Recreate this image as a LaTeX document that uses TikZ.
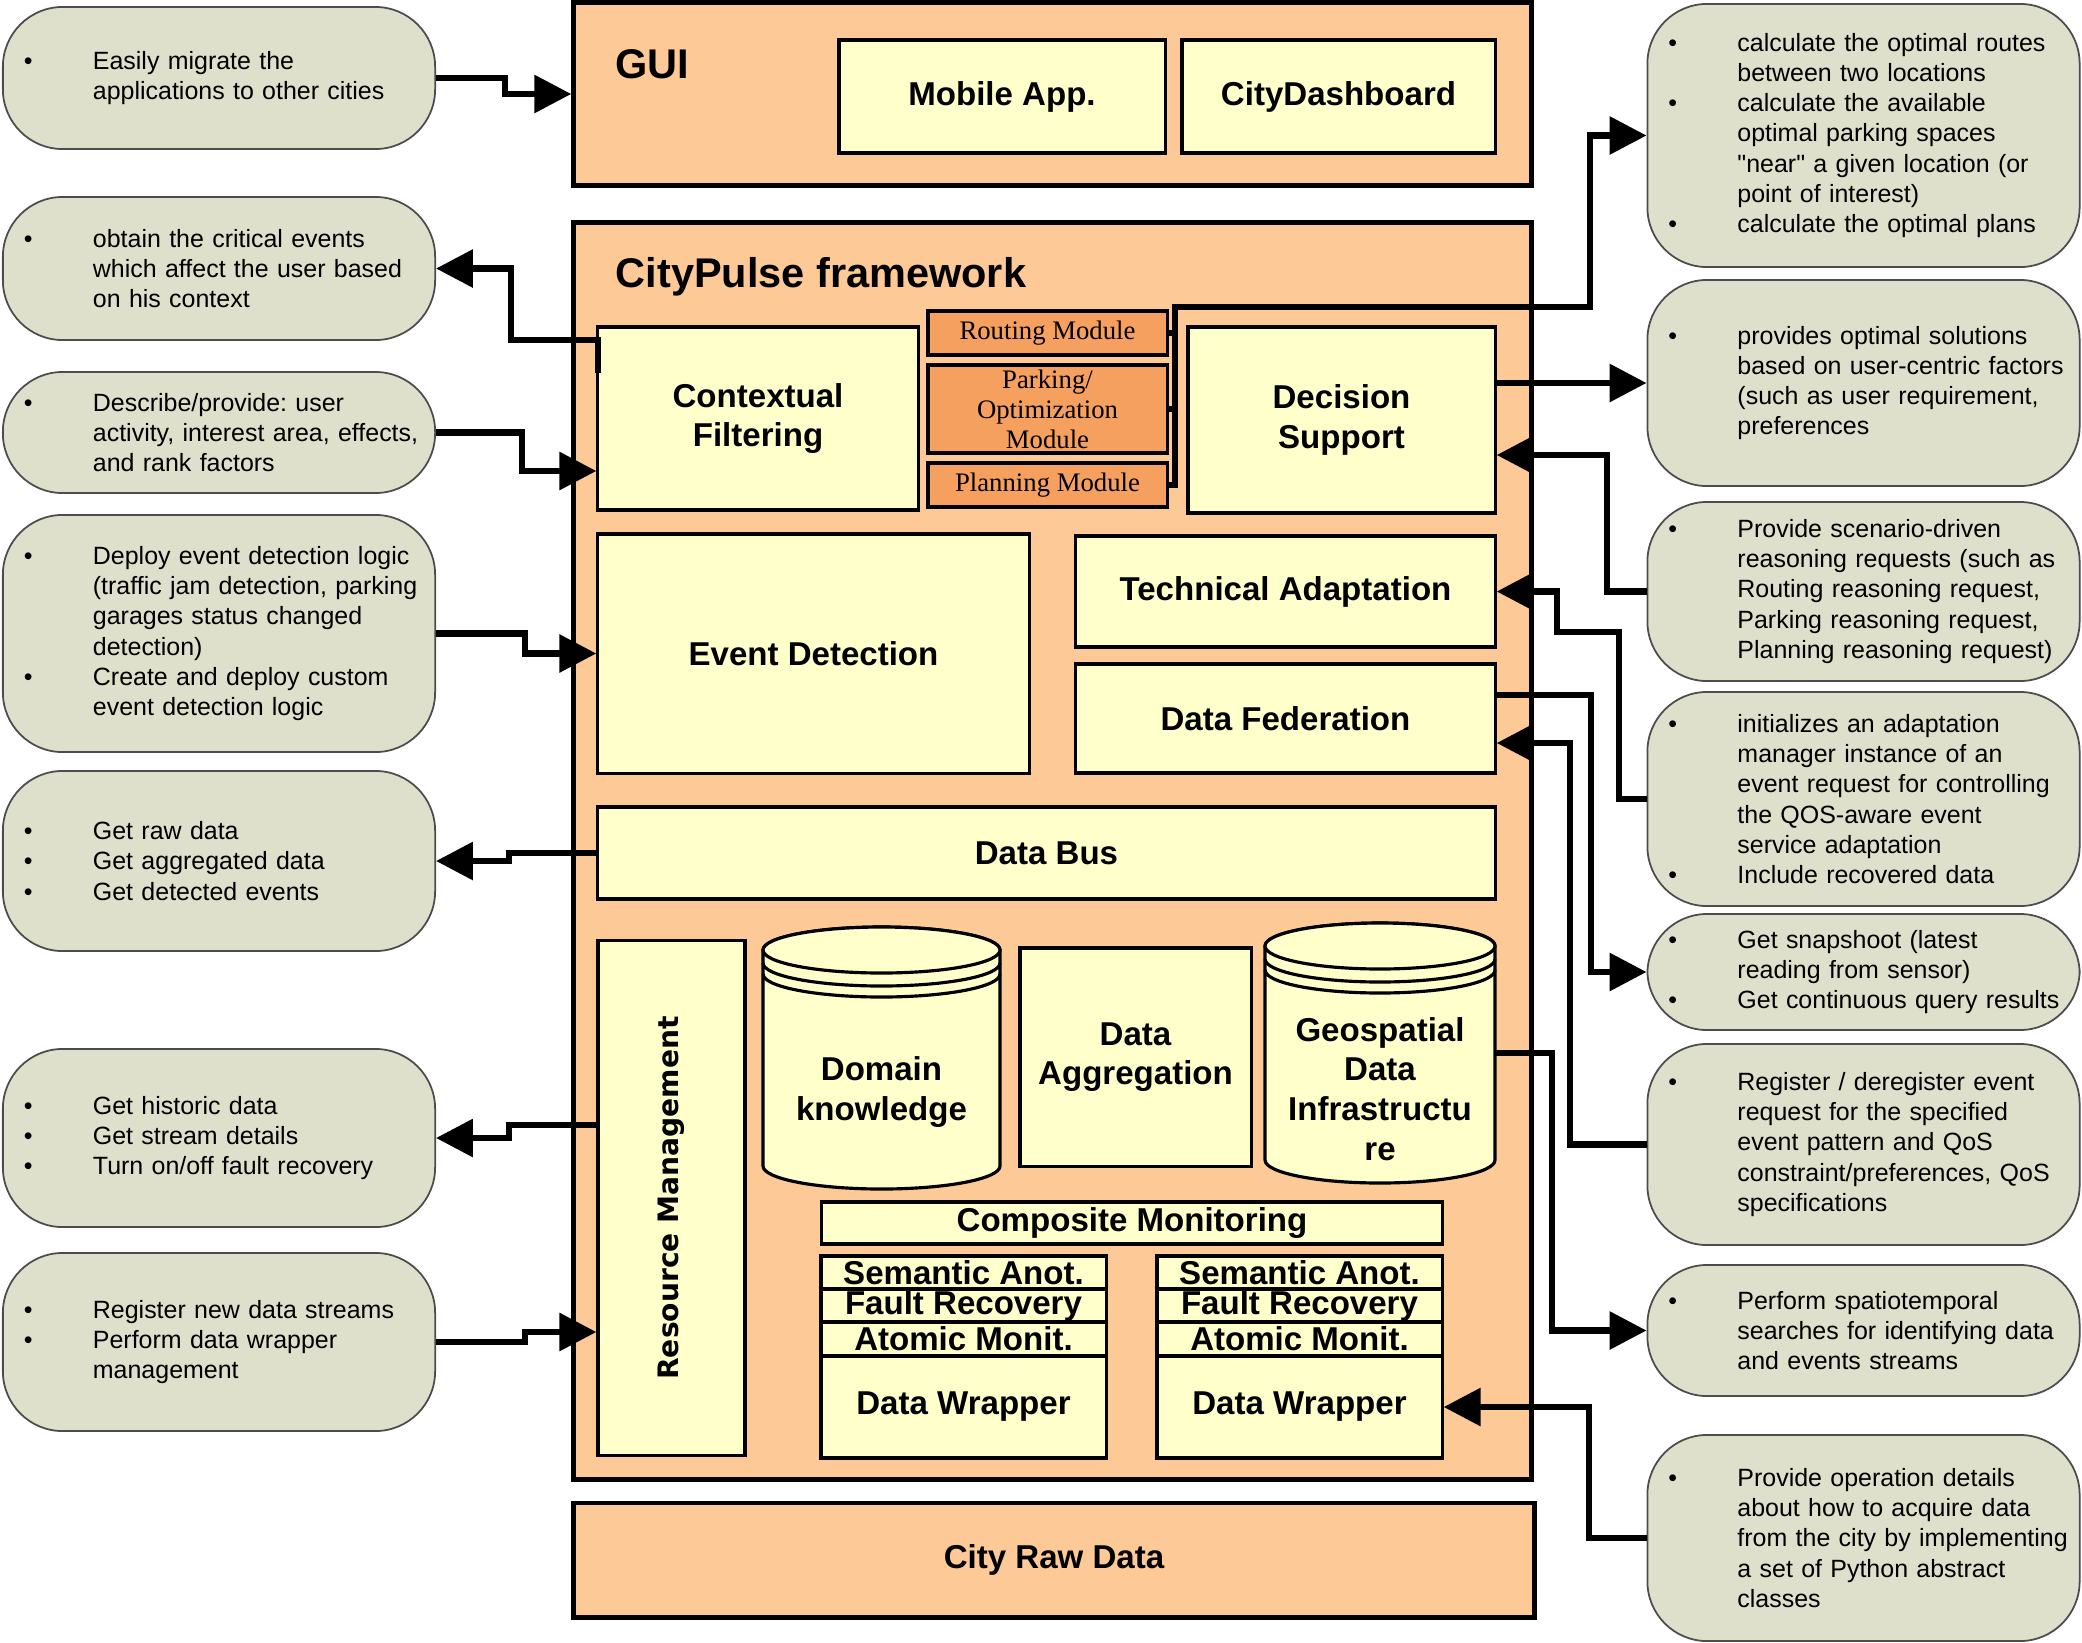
\documentclass[tikz,border=0pt]{standalone}
\usepackage{fontspec}
\setmainfont{Liberation Sans}
\newfontfamily\timesfont{Liberation Serif}
\newfontfamily\verdfont{DejaVu Sans}
\usetikzlibrary{arrows.meta,calc}
\frenchspacing

\definecolor{peach}{RGB}{253,201,151}
\definecolor{paleyellow}{RGB}{255,255,204}
\definecolor{modorange}{RGB}{245,160,95}
\definecolor{notegray}{RGB}{223,224,203}

% bullet line and continuation line of a remark
\newcommand{\bl}[1]{\makebox[0.69cm][l]{\textbullet}\mbox{#1}}
\newcommand{\cn}[1]{\makebox[0.69cm][l]{}\mbox{#1}}

\tikzset{
  layer/.style={draw, line width=1.4pt, fill=peach, inner sep=0pt},
  layertitle/.style={anchor=west, inner sep=0pt, font=\bfseries\fontsize{11.8}{14}\selectfont},
  blockfont/.style={font=\bfseries\fontsize{9.4}{11.3}\selectfont},
  block/.style={draw, line width=0.9pt, fill=paleyellow, inner sep=0pt, align=center, blockfont},
  module/.style={draw, line width=0.9pt, fill=modorange, inner sep=0pt, align=center, font=\timesfont\fontsize{7.6}{8.5}\selectfont},
  cyl/.style={draw, line width=0.9pt, fill=paleyellow},
  remark/.style={draw=black!70, line width=0.5pt, fill=notegray, rounded corners=17pt, minimum width=4.32cm, text width=3.9cm, inner xsep=0.21cm, align=left, font=\fontsize{7.1}{8.6}\selectfont},
  wire/.style={line width=1.8pt},
  flow/.style={wire, -{Triangle[length=10.5pt,width=10.5pt]}},
}

\begin{document}
\begin{tikzpicture}[x=0.01cm, y=-0.01cm]
  \useasboundingbox (0,0) rectangle (2082,1642);

  % layers
  \node[layer, minimum width=9.57cm, minimum height=1.82cm] (gui) at (1052.5,94) {};
  \node[layertitle] (guititle) at (615,64) {GUI};
  \node[layer, minimum width=9.57cm, minimum height=12.56cm] (fw) at (1052.5,851) {};
  \node[layertitle] (fwtitle) at (615,277) {CityPulse framework};
  \node[layer, blockfont, minimum width=9.6cm, minimum height=1.14cm] (raw) at (1054,1560) {City Raw Data};

  % GUI
  \node[block, minimum width=3.26cm, minimum height=1.13cm] (mobile) at (1002,96.5) {Mobile App.};
  \node[block, minimum width=3.13cm, minimum height=1.13cm] (dash) at (1338.5,96.5) {CityDashboard};

  % framework
  \node[block, minimum width=3.2cm, minimum height=1.83cm] (cf) at (758,418.5) {Contextual\\Filtering};
  \node[module, minimum width=2.39cm, minimum height=0.44cm] (routing) at (1047.5,333) {Routing Module};
  \node[module, minimum width=2.39cm, minimum height=0.88cm] (parking) at (1047.5,409) {Parking/\\Optimization\\Module};
  \node[module, minimum width=2.39cm, minimum height=0.44cm] (planning) at (1047.5,485) {Planning Module};
  \node[block, minimum width=3.07cm, minimum height=1.86cm] (ds) at (1341.5,420) {Decision\\Support};
  \node[block, minimum width=4.31cm, minimum height=2.39cm] (ed) at (813.5,653.5) {Event Detection};
  \node[block, minimum width=4.19cm, minimum height=1.11cm] (ta) at (1285.5,591.5) {Technical Adaptation};
  \node[block, minimum width=4.19cm, minimum height=1.09cm] (df) at (1285.5,718.5) {Data Federation};
  \node[block, minimum width=8.97cm, minimum height=0.92cm] (bus) at (1046.5,853) {Data Bus};
  \node[block, minimum width=1.47cm, minimum height=5.14cm] (rm) at (671.5,1198)
    {\rotatebox{90}{\verdfont\bfseries\fontsize{8}{10}\selectfont Resource Management}};

  \filldraw[cyl] (763,950) -- (763,1166) arc[start angle=180, end angle=0, x radius=118.5, y radius=23]
    -- (1000,950) arc[start angle=0, end angle=-180, x radius=118.5, y radius=23] -- cycle;
  \draw[cyl] (881.5,950) ellipse [x radius=118.5, y radius=23];
  \draw[line width=0.9pt] (763,963) arc[start angle=180, end angle=0, x radius=118.5, y radius=23];
  \draw[line width=0.9pt] (763,974) arc[start angle=180, end angle=0, x radius=118.5, y radius=23];
  \node[blockfont, align=center, inner sep=0pt, minimum width=2.37cm] (dk) at (881.5,1092) {Domain\\knowledge};

  \node[block, minimum width=2.31cm, minimum height=2.18cm] (agg) at (1135.5,1057) {Data\\Aggregation};

  \filldraw[cyl] (1265,946) -- (1265,1160) arc[start angle=180, end angle=0, x radius=115, y radius=23]
    -- (1495,946) arc[start angle=0, end angle=-180, x radius=115, y radius=23] -- cycle;
  \draw[cyl] (1380,946) ellipse [x radius=115, y radius=23];
  \draw[line width=0.9pt] (1265,959) arc[start angle=180, end angle=0, x radius=115, y radius=23];
  \draw[line width=0.9pt] (1265,970) arc[start angle=180, end angle=0, x radius=115, y radius=23];
  \node[blockfont, align=center, inner sep=0pt, minimum width=2.3cm] (geo) at (1380,1089) {Geospatial\\Data\\Infrastructu\\re};

  \node[block, minimum width=6.2cm, minimum height=0.42cm] (cm) at (1132,1223) {Composite Monitoring};

  \node[block, minimum width=2.85cm, minimum height=0.33cm] (semL) at (963.5,1272.5) {Semantic Anot.};
  \node[block, minimum width=2.85cm, minimum height=0.33cm] (faultL) at (963.5,1305.5) {Fault Recovery};
  \node[block, minimum width=2.85cm, minimum height=0.34cm] (atomL) at (963.5,1339) {Atomic Monit.};
  \node[block, minimum width=2.85cm, minimum height=1.02cm] (wrapL) at (963.5,1407) {Data Wrapper};
  \node[block, minimum width=2.85cm, minimum height=0.33cm] (semR) at (1299.5,1272.5) {Semantic Anot.};
  \node[block, minimum width=2.85cm, minimum height=0.33cm] (faultR) at (1299.5,1305.5) {Fault Recovery};
  \node[block, minimum width=2.85cm, minimum height=0.34cm] (atomR) at (1299.5,1339) {Atomic Monit.};
  \node[block, minimum width=2.85cm, minimum height=1.02cm] (wrapR) at (1299.5,1407) {Data Wrapper};

  % remarks, left
  \node[remark, minimum height=1.42cm] (cl1) at (219,78) {\bl{Easily migrate the}\\\cn{applications to other cities}};
  \node[remark, minimum height=1.43cm] (cl2) at (219,268.5) {\bl{obtain the critical events}\\\cn{which affect the user based}\\\cn{on his context}};
  \node[remark, minimum height=1.21cm] (cl3) at (219,432.5) {\bl{Describe/provide: user}\\\cn{activity, interest area, effects,}\\\cn{and rank factors}};
  \node[remark, minimum height=2.37cm] (cl4) at (219,633.5) {\bl{Deploy event detection logic}\\\cn{(traffic jam detection, parking}\\\cn{garages status changed}\\\cn{detection)}\\\bl{Create and deploy custom}\\\cn{event detection logic}};
  \node[remark, minimum height=1.8cm] (cl5) at (219,861) {\bl{Get raw data}\\\bl{Get aggregated data}\\\bl{Get detected events}};
  \node[remark, minimum height=1.78cm] (cl6) at (219,1138) {\bl{Get historic data}\\\bl{Get stream details}\\\bl{Turn on/off fault recovery}};
  \node[remark, minimum height=1.78cm] (cl7) at (219,1342) {\bl{Register new data streams}\\\bl{Perform data wrapper}\\\cn{management}};

  % remarks, right
  \node[remark, minimum height=2.63cm] (cr1) at (1863.5,135.5) {\bl{calculate the optimal routes}\\\cn{between two locations}\\\bl{calculate the available}\\\cn{optimal parking spaces}\\\cn{\textquotedbl near\textquotedbl{} a given location (or}\\\cn{point of interest)}\\\bl{calculate the optimal plans}};
  \node[remark, minimum height=2.06cm] (cr2) at (1863.5,383) {\bl{provides optimal solutions}\\\cn{based on user-centric factors}\\\cn{(such as user requirement,}\\\cn{preferences}};
  \node[remark, minimum height=1.79cm] (cr3) at (1863.5,591.5) {\bl{Provide scenario-driven}\\\cn{reasoning requests (such as}\\\cn{Routing reasoning request,}\\\cn{Parking reasoning request,}\\\cn{Planning reasoning request)}};
  \node[remark, minimum height=2.14cm] (cr4) at (1863.5,799) {\bl{initializes an adaptation}\\\cn{manager instance of an}\\\cn{event request for controlling}\\\cn{the QOS-aware event}\\\cn{service adaptation}\\\bl{Include recovered data}};
  \node[remark, minimum height=1.16cm] (cr5) at (1863.5,972) {\bl{Get snapshoot (latest}\\\cn{reading from sensor)}\\\bl{Get continuous query results}};
  \node[remark, minimum height=2.01cm] (cr6) at (1863.5,1144.5) {\bl{Register / deregister event}\\\cn{request for the specified}\\\cn{event pattern and QoS}\\\cn{constraint/preferences, QoS}\\\cn{specifications}};
  \node[remark, minimum height=1.31cm] (cr7) at (1863.5,1330.5) {\bl{Perform spatiotemporal}\\\cn{searches for identifying data}\\\cn{and events streams}};
  \node[remark, minimum height=2.06cm] (cr8) at (1863.5,1538) {\bl{Provide operation details}\\\cn{about how to acquire data}\\\cn{from the city by implementing}\\\cn{a set of Python abstract}\\\cn{classes}};

  % connectors, left
  \draw[flow] (cl1.east) -| (505,94) -- (gui.west);
  \draw[flow] ($(cf.north west)+(2,48)$) |- (511,340) |- (cl2.east);
  \draw[flow] (cl3.east) -| (522,471) -- ($(cf.west)+(0,52.5)$);
  \draw[flow] (cl4.east) -| (525,653.5) -- (ed.west);
  \draw[flow] (bus.west) -| (509,861) -- (cl5.east);
  \draw[flow] ($(rm.west)+(0,-73)$) -| (509,1138) -- (cl6.east);
  \draw[flow] (cl7.east) -| (525,1332) -- ($(rm.west)+(0,134)$);

  % connectors, right
  \draw[wire] (routing.east) -- (1175,333);
  \draw[wire] (parking.east) -- (1175,409);
  \draw[flow] (planning.east) -- (1175,485) -- (1175,307) -- (1590,307) |- (cr1.west);
  \draw[flow] (ds.east |- cr2.west) -- (cr2.west);
  \draw[flow] (cr3.west) -| (1607,455) -- ($(ds.east)+(0,35)$);
  \draw[flow] (cr4.west) -| (1619,632) -| (1557,591.5) -- (ta.east);
  \draw[flow] ($(df.east)+(0,-23.5)$) -| (1591,972) -- (cr5.west);
  \draw[flow] (cr6.west) -| (1570,743) -- ($(df.east)+(0,24.5)$);
  \draw[flow] ($(geo.east)+(0,-36)$) -| (1552,1330.5) -- (cr7.west);
  \draw[flow] (cr8.west) -| (1589,1407) -- (wrapR.east);
\end{tikzpicture}
\end{document}
